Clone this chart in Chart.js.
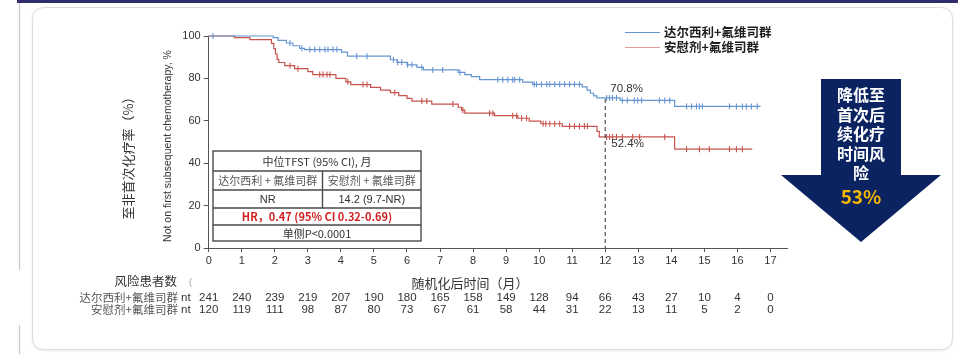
<!DOCTYPE html>
<html>
<head>
<meta charset="utf-8">
<script src="https://cdn.jsdelivr.net/npm/chart.js@4/dist/chart.umd.min.js"></script>
<style>
  html, body { margin: 0; padding: 0; background: #ffffff; }
  #wrap { position: relative; width: 958px; height: 354px; }
</style>
</head>
<body>
<div id="wrap"><canvas id="km" width="958" height="354"></canvas></div>
<script>
// Kaplan-Meier steps: time (months) at which the curve drops, and the new level (%)
const blueTimes = [0, 1.95, 2.1, 2.35, 2.55, 2.75, 2.9, 4.02, 4.2, 5.5, 5.7, 6.0, 6.3, 6.5, 7.55, 7.75, 7.95, 8.2, 9.5, 9.8, 11.3, 11.45, 11.55, 11.65, 11.75, 12.45, 14.1, 16.7];
const blueSurv  = [100, 99.2, 97.9, 96.7, 95.4, 94.2, 93.6, 92.4, 90.5, 88.8, 87.6, 86.4, 85.2, 84.0, 82.8, 81.8, 80.8, 79.4, 78.2, 77.2, 76.0, 74.5, 73.0, 71.8, 70.8, 69.6, 66.8, 66.8];
const redTimes  = [0, 0.78, 1.25, 1.9, 1.97, 2.02, 2.07, 2.12, 2.3, 2.6, 3.0, 3.15, 3.85, 4.15, 4.3, 4.9, 5.2, 5.5, 5.75, 6.0, 6.15, 6.75, 7.55, 7.65, 7.75, 8.65, 9.35, 9.7, 10.05, 10.7, 11.75, 11.82, 14.1, 16.45];
const redSurv   = [100, 99.2, 98.3, 96.5, 94.0, 91.5, 89.0, 87.5, 86.0, 84.6, 83.2, 81.8, 80.0, 78.4, 77.1, 75.8, 74.5, 73.3, 71.9, 70.6, 69.3, 67.9, 66.4, 65.0, 63.6, 62.4, 61.2, 59.8, 58.6, 57.4, 55.0, 52.4, 46.6, 46.6];

// Censoring times (months)
const blueCensor = [0.13, 2.46, 2.82, 3.06, 3.21, 3.36, 3.52, 3.61, 3.76, 3.88, 4.48, 4.79, 5.59, 5.72, 5.84, 6.02, 6.15, 6.45, 6.78, 7.08, 7.6, 8.75, 8.9, 9.05, 9.2, 9.26, 9.41, 9.85, 9.92, 10.07, 10.23, 10.32, 10.47, 10.62, 10.77, 10.92, 11.07, 11.22, 12.04, 12.13, 12.22, 12.34, 12.52, 12.67, 12.88, 12.98, 13.1, 13.64, 13.8, 13.95, 14.46, 14.61, 14.76, 14.85, 14.94, 15.76, 15.97, 16.15, 16.27, 16.42, 16.6];
const redCensor  = [2.46, 2.7, 3.36, 3.46, 3.58, 3.67, 4.21, 4.67, 4.79, 5.63, 6.45, 6.6, 7.39, 7.69, 8.5, 8.6, 9.2, 9.32, 9.47, 9.62, 10.12, 10.2, 10.32, 10.47, 10.62, 10.92, 11.07, 11.22, 11.37, 11.46, 12.04, 12.13, 12.22, 12.34, 12.52, 12.83, 13.04, 13.8, 14.46, 14.85, 15.15, 15.76, 15.97, 16.15];

// Number at risk
const riskMonths = [0, 1, 2, 3, 4, 5, 6, 7, 8, 9, 10, 11, 12, 13, 14, 15, 16, 17];
const blueRisk = [241, 240, 239, 219, 207, 190, 180, 165, 158, 149, 128, 94, 66, 43, 27, 10, 4, 0];
const redRisk  = [120, 119, 111, 98, 87, 80, 73, 67, 61, 58, 44, 31, 22, 13, 11, 5, 2, 0];

// Labels
const seriesNames = ['达尔西利+氟维司群', '安慰剂+氟维司群'];
const landmarkMonth = 12;
const landmarkBlue = 70.8;
const landmarkRed = 52.4;
const yTicks = [0, 20, 40, 60, 80, 100];

const LATIN = '"Liberation Sans", Arial, sans-serif';
const CJK = '"Noto Sans CJK SC", "Noto Sans", sans-serif';
const BLUE = '#6495d2';
const RED = '#c7534c';

function levelAt(times, vals, t) {
  let v = vals[0];
  for (let i = 0; i < times.length; i++) { if (times[i] <= t) v = vals[i]; }
  return v;
}
const curvePts = (times, vals) => times.map((t, i) => ({ x: t, y: vals[i] }));
const censorPts = (cens, times, vals) => cens.map(t => ({ x: t, y: levelAt(times, vals, t) }));

function roundRect(ctx, x, y, w, h, r) {
  ctx.beginPath();
  ctx.moveTo(x + r, y);
  ctx.lineTo(x + w - r, y);
  ctx.quadraticCurveTo(x + w, y, x + w, y + r);
  ctx.lineTo(x + w, y + h - r);
  ctx.quadraticCurveTo(x + w, y + h, x + w - r, y + h);
  ctx.lineTo(x + r, y + h);
  ctx.quadraticCurveTo(x, y + h, x, y + h - r);
  ctx.lineTo(x, y + r);
  ctx.quadraticCurveTo(x, y, x + r, y);
  ctx.closePath();
}

const backdrop = {
  id: 'backdrop',
  beforeDraw(chart) {
    const ctx = chart.ctx;
    ctx.save();
    ctx.fillStyle = '#ffffff';
    ctx.fillRect(0, 0, 958, 354);
    // header strip
    ctx.fillStyle = '#312c6c';
    ctx.fillRect(17, 0, 941, 3);
    // left rule
    ctx.strokeStyle = '#c8c8c8';
    ctx.lineWidth = 1.2;
    ctx.beginPath(); ctx.moveTo(19.5, 3); ctx.lineTo(19.5, 270); ctx.stroke();
    ctx.beginPath(); ctx.moveTo(19.5, 325); ctx.lineTo(19.5, 354); ctx.stroke();
    // card
    ctx.shadowColor = 'rgba(0,0,0,0.12)';
    ctx.shadowBlur = 3;
    ctx.shadowOffsetY = 1;
    roundRect(ctx, 32.5, 7.5, 920, 342, 12);
    ctx.fillStyle = '#ffffff';
    ctx.fill();
    ctx.shadowColor = 'transparent';
    ctx.strokeStyle = '#dcdcdc';
    ctx.lineWidth = 1;
    ctx.stroke();
    ctx.restore();
  }
};

const overlay = {
  id: 'overlay',
  afterDraw(chart) {
    const ctx = chart.ctx;
    const xs = chart.scales.x, ys = chart.scales.y;
    ctx.save();

    // landmark at 12 months
    const lx = xs.getPixelForValue(landmarkMonth);
    ctx.strokeStyle = '#555';
    ctx.lineWidth = 1.2;
    ctx.setLineDash([4, 3]);
    ctx.beginPath();
    ctx.moveTo(lx, ys.getPixelForValue(landmarkBlue) + 1);
    ctx.lineTo(lx, ys.getPixelForValue(0));
    ctx.stroke();
    ctx.setLineDash([]);
    ctx.fillStyle = '#333';
    ctx.font = '11.5px ' + LATIN;
    ctx.textAlign = 'left';
    ctx.textBaseline = 'middle';
    ctx.fillText(landmarkBlue.toFixed(1) + '%', lx + 5, ys.getPixelForValue(landmarkBlue) - 9);
    ctx.fillText(landmarkRed.toFixed(1) + '%', lx + 6, ys.getPixelForValue(landmarkRed) + 6.5);

    // axis titles
    ctx.fillStyle = '#333';
    ctx.save();
    ctx.translate(128, 155);
    ctx.rotate(-Math.PI / 2);
    ctx.textAlign = 'center';
    ctx.font = '13px ' + CJK;
    ctx.fillText('至非首次化疗率（%）', 0, 0);
    ctx.restore();
    ctx.save();
    ctx.translate(168, 146);
    ctx.rotate(-Math.PI / 2);
    ctx.textAlign = 'center';
    ctx.font = '10.5px ' + LATIN;
    ctx.fillText('Not on first subsequent chemotherapy, %', 0, 0);
    ctx.restore();
    ctx.textAlign = 'center';
    ctx.font = '13px ' + CJK;
    ctx.fillText('随机化后时间（月）', 470, 283);

    // legend
    const leg = [[BLUE, 32.5, seriesNames[0]], ['#e29b96', 47.5, seriesNames[1]]];
    leg.forEach(([c, y, t]) => {
      ctx.strokeStyle = c; ctx.lineWidth = 1.2;
      ctx.beginPath(); ctx.moveTo(625, y); ctx.lineTo(660, y); ctx.stroke();
      ctx.fillStyle = '#1e1e1e';
      ctx.font = 'bold 12.5px ' + CJK;
      ctx.textAlign = 'left';
      ctx.fillText(t, 664, y);
    });

    // summary table
    const tx = 213, tw = 208, tRows = [151, 171, 190, 208, 225, 241], tDiv = 322.5;
    ctx.fillStyle = '#ffffff';
    ctx.fillRect(tx, tRows[0], tw, tRows[5] - tRows[0]);
    ctx.strokeStyle = '#4a4a4a';
    ctx.lineWidth = 1.4;
    ctx.strokeRect(tx, tRows[0], tw, tRows[5] - tRows[0]);
    ctx.beginPath();
    for (let i = 1; i < 5; i++) { ctx.moveTo(tx, tRows[i]); ctx.lineTo(tx + tw, tRows[i]); }
    ctx.moveTo(tDiv, tRows[1]); ctx.lineTo(tDiv, tRows[3]);
    ctx.stroke();
    const cL = (tx + tDiv) / 2, cR = (tDiv + tx + tw) / 2, cM = tx + tw / 2;
    const mid = i => (tRows[i] + tRows[i + 1]) / 2 + 0.5;
    ctx.textAlign = 'center';
    ctx.fillStyle = '#333';
    ctx.font = '11px ' + CJK;
    ctx.fillText('中位TFST (95% CI), 月', cM, mid(0));
    ctx.fillStyle = '#555';
    ctx.fillText('达尔西利 + 氟维司群', cL, mid(1));
    ctx.fillText('安慰剂 + 氟维司群', cR, mid(1));
    ctx.fillStyle = '#333';
    ctx.font = '11px ' + LATIN;
    ctx.fillText('NR', cL, mid(2));
    ctx.fillText('14.2 (9.7-NR)', cR, mid(2));
    ctx.fillStyle = '#d21f1f';
    ctx.font = 'bold 11px ' + CJK;
    ctx.fillText('HR，0.47 (95% CI 0.32-0.69)', cM, mid(3));
    ctx.fillStyle = '#333';
    ctx.font = '11px ' + CJK;
    ctx.fillText('单侧P<0.0001', cM, mid(4));

    // number at risk
    ctx.fillStyle = '#333';
    ctx.font = '12.5px ' + CJK;
    ctx.textAlign = 'right';
    ctx.fillText('风险患者数', 177, 281);
    ctx.fillStyle = '#999';
    ctx.font = '9px ' + LATIN;
    ctx.textAlign = 'left';
    ctx.fillText('(', 189, 283);
    const rows = [[seriesNames[0], blueRisk, 298], [seriesNames[1], redRisk, 310]];
    rows.forEach(([name, vals, y]) => {
      ctx.fillStyle = '#555';
      ctx.font = '11.5px ' + CJK;
      ctx.textAlign = 'right';
      ctx.fillText(name, 178, y);
      ctx.fillStyle = '#333';
      ctx.font = '11.5px ' + LATIN;
      ctx.textAlign = 'left';
      ctx.fillText('nt', 181, y);
      ctx.textAlign = 'center';
      vals.forEach((v, i) => ctx.fillText(String(v), xs.getPixelForValue(riskMonths[i]), y));
    });

    // callout arrow
    ctx.fillStyle = '#0b2461';
    ctx.beginPath();
    ctx.moveTo(821, 79);
    ctx.lineTo(901, 79);
    ctx.lineTo(901, 175);
    ctx.lineTo(941, 175);
    ctx.lineTo(861, 242);
    ctx.lineTo(781, 175);
    ctx.lineTo(821, 175);
    ctx.closePath();
    ctx.fill();
    ctx.fillStyle = '#ffffff';
    ctx.font = 'bold 16px ' + CJK;
    ctx.textAlign = 'center';
    ['降低至', '首次后', '续化疗', '时间风', '险'].forEach((t, i) => ctx.fillText(t, 861, 95 + i * 19.5));
    ctx.fillStyle = '#f5b800';
    ctx.font = 'bold 19px ' + CJK;
    ctx.fillText('53%', 861, 197);

    ctx.restore();
  }
};

const chart = new Chart(document.getElementById('km'), {
  type: 'line',
  data: {
    datasets: [
      { label: seriesNames[0], data: curvePts(blueTimes, blueSurv), stepped: 'before', borderColor: BLUE, borderWidth: 1.2, pointRadius: 0, fill: false, clip: false },
      { label: seriesNames[1], data: curvePts(redTimes, redSurv), stepped: 'before', borderColor: RED, borderWidth: 1.2, pointRadius: 0, fill: false, clip: false },
      { type: 'scatter', data: censorPts(blueCensor, blueTimes, blueSurv), pointStyle: 'line', rotation: 90, pointRadius: 3, borderColor: BLUE, borderWidth: 1.1, showLine: false, clip: false },
      { type: 'scatter', data: censorPts(redCensor, redTimes, redSurv), pointStyle: 'line', rotation: 90, pointRadius: 3, borderColor: RED, borderWidth: 1.1, showLine: false, clip: false }
    ]
  },
  options: {
    responsive: false,
    animation: false,
    layout: { padding: { left: 0, top: 36, right: 171, bottom: 86 } },
    plugins: { legend: { display: false }, tooltip: { enabled: false } },
    scales: {
      x: {
        type: 'linear', min: 0, max: 17.5,
        afterFit: s => { s.height = 20; },
        ticks: { stepSize: 1, includeBounds: false, color: '#333', padding: 2, font: { family: LATIN, size: 11 } },
        grid: { drawOnChartArea: false, drawTicks: true, tickLength: 4, color: '#555' },
        border: { display: true, color: '#555', width: 1 }
      },
      y: {
        type: 'linear', min: 0, max: 100,
        afterFit: s => { s.width = 208.7; },
        afterBuildTicks: s => { s.ticks = yTicks.map(v => ({ value: v })); },
        ticks: { color: '#333', padding: 3, font: { family: LATIN, size: 11 } },
        grid: { drawOnChartArea: false, drawTicks: true, tickLength: 5, color: '#555' },
        border: { display: true, color: '#555', width: 1 }
      }
    }
  },
  plugins: [backdrop, overlay]
});
</script>
</body>
</html>
